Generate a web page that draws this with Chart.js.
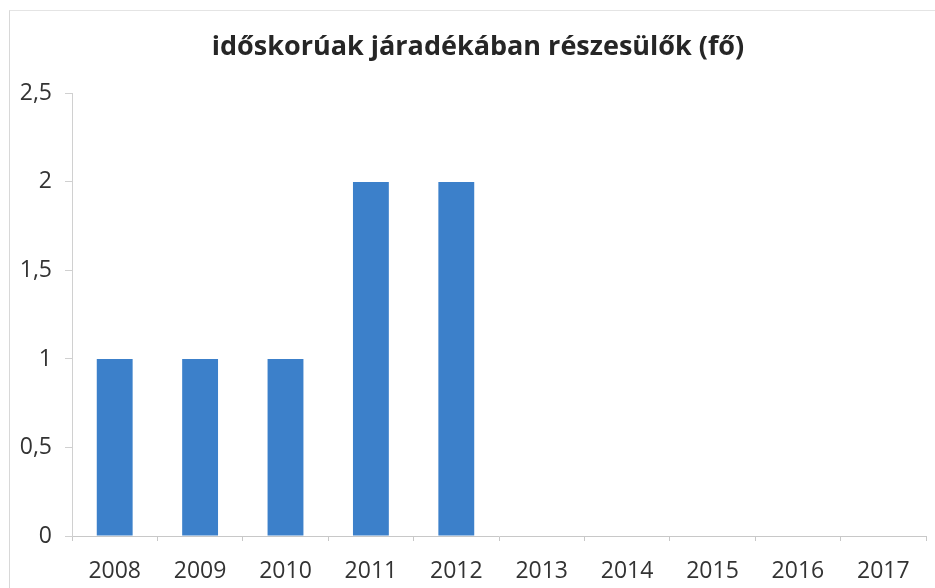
<!DOCTYPE html>
<html>
<head>
<meta charset="utf-8">
<script src="https://cdn.jsdelivr.net/npm/chart.js@4.4.1/dist/chart.umd.min.js"></script>
<style>
  html, body { margin: 0; padding: 0; background: #fff; }
  #wrap { position: relative; width: 935px; height: 588px; }
  #frame { position: absolute; left: 9px; top: 10px; right: -2px; bottom: -2px; border-left: 1px solid #d8d8d8; border-top: 1px solid #e4e4e4; }
  canvas { position: absolute; left: 0; top: 0; }
</style>
</head>
<body>
<div id="wrap">
  <div id="frame"></div>
  <canvas id="chart" width="935" height="588"></canvas>
</div>
<script>
// Data
const years = ['2008', '2009', '2010', '2011', '2012', '2013', '2014', '2015', '2016', '2017'];
const recipients = [1, 1, 1, 2, 2, 0, 0, 0, 0, 0];
const chartTitle = 'időskorúak járadékában részesülők (fő)';

const barColor = 'rgb(60, 128, 202)';
const labelFont = { family: 'Open Sans', size: 23 };

// nudge the title a bit to the right, the original is not centred on the canvas
const titleShift = {
    id: 'titleShift',
    afterLayout(chart) {
        const t = chart.titleBlock;
        if (t) {
            t.left += 15;
            t.right += 15;
        }
    }
};

new Chart(document.getElementById('chart'), {
    type: 'bar',
    data: {
        labels: years,
        datasets: [{
            label: chartTitle,
            data: recipients,
            backgroundColor: barColor,
            categoryPercentage: 1,
            barPercentage: 0.42
        }]
    },
    options: {
        responsive: false,
        animation: false,
        devicePixelRatio: 1,
        layout: { padding: { left: 0, right: 9, top: 0, bottom: 0 } },
        plugins: {
            legend: { display: false },
            tooltip: { enabled: false },
            title: {
                display: true,
                text: chartTitle,
                color: '#262626',
                font: { family: 'Open Sans', size: 27, weight: 'bold' },
                padding: { top: 31, bottom: 30 }
            }
        },
        scales: {
            x: {
                grid: { drawOnChartArea: false, drawTicks: true, tickLength: 5, color: '#c8c8c8', offset: true },
                border: { display: true, color: '#c8c8c8' },
                ticks: { color: '#333', font: labelFont, padding: 17, maxRotation: 0 },
                afterFit: (scale) => { scale.height = 52; }
            },
            y: {
                min: 0,
                max: 2.5,
                grid: { drawOnChartArea: false, drawTicks: true, tickLength: 7, color: '#d0d0d0' },
                border: { display: true, color: '#d0d0d0' },
                ticks: {
                    stepSize: 0.5,
                    color: '#333',
                    font: labelFont,
                    padding: 13,
                    callback: (v) => String(v).replace('.', ',')
                },
                afterFit: (scale) => { scale.width = 72; }
            }
        }
    },
    plugins: [titleShift]
});
</script>
</body>
</html>
